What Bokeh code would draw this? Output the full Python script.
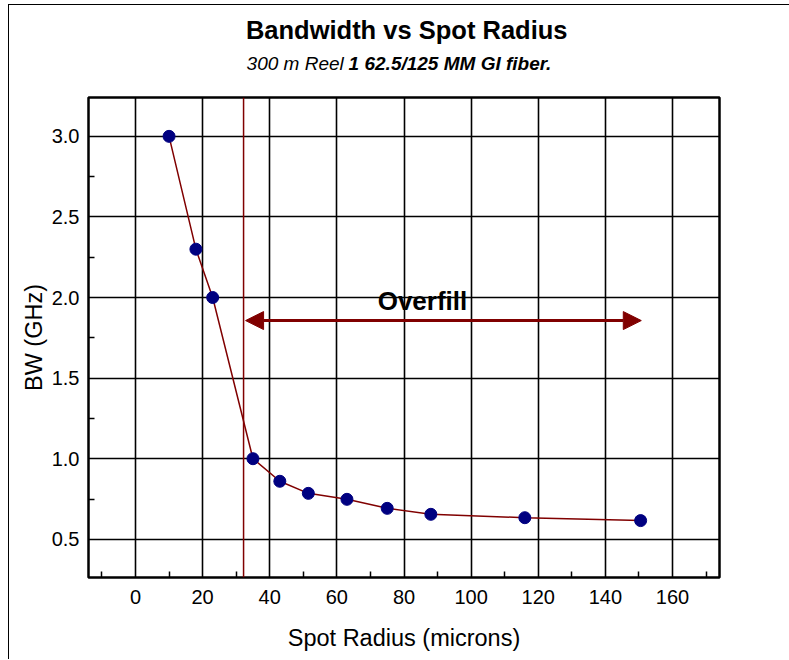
from bokeh.plotting import figure
from bokeh.layouts import column
from bokeh.models import Range1d, FixedTicker, Span, Arrow, NormalHead, Label, NumeralTickFormatter
from bokeh.core.properties import value
from bokeh.embed import file_html
from bokeh.resources import INLINE

# ---- data ----
spot_radius = [10, 18, 23, 35, 43, 51.5, 63, 75, 88, 116, 150.5]
bandwidth = [3.0, 2.3, 2.0, 1.0, 0.86, 0.785, 0.748, 0.692, 0.655, 0.634, 0.616]

x_ticks = [0, 20, 40, 60, 80, 100, 120, 140, 160]
x_minor = [-10, 10, 30, 50, 70, 90, 110, 130, 150, 170]
y_ticks = [0.5, 1.0, 1.5, 2.0, 2.5, 3.0]
y_minor = [0.75, 1.25, 1.75, 2.25, 2.75]

overfill_edge = 32.2          # vertical boundary line (microns)
overfill_end = 150.7          # arrow end (microns)
overfill_level = 1.857        # arrow height (GHz)

title_text = "Bandwidth vs Spot Radius"
subtitle_a = "300 m Reel"
subtitle_b = "1 62.5/125 MM GI fiber."
x_label = "Spot Radius (microns)"
y_label = "BW (GHz)"

FONT = "Liberation Sans"
RED = "#800000"
NAVY = "#000080"

W = 780
HEAD_H = 90
MAIN_H = 564

x_range = Range1d(-14, 174)

# ---- header with title and subtitle (shares the x scale of the plot) ----
head = figure(width=W, height=HEAD_H, output_backend="svg", toolbar_location=None,
              x_range=x_range, y_range=Range1d(0, HEAD_H),
              min_border=0, x_axis_type=None, y_axis_type=None)
head.outline_line_color = None
head.grid.visible = False
head.background_fill_color = "white"
head.border_fill_color = "white"
head.text(x=[80.8], y=[65.5], text=[title_text], text_align="center", text_baseline="alphabetic",
          text_font=value(FONT), text_font_size="25.5px", text_font_style="bold", text_color="black")
head.text(x=[33.1], y=[32], text=[subtitle_a], text_align="left", text_baseline="alphabetic",
          text_font=value(FONT), text_font_size="19px", text_font_style="italic", text_color="black")
head.text(x=[63.5], y=[32], text=[subtitle_b], text_align="left", text_baseline="alphabetic",
          text_font=value(FONT), text_font_size="19px", text_font_style="bold italic", text_color="black")

# ---- main plot ----
p = figure(width=W, height=MAIN_H, output_backend="svg", toolbar_location=None,
           x_range=x_range, y_range=Range1d(0.263, 3.241),
           min_border_left=79, min_border_right=70, min_border_top=2, min_border_bottom=82)
p.background_fill_color = "white"
p.border_fill_color = "white"
p.outline_line_color = "black"
p.outline_line_width = 2.5

p.xaxis.ticker = FixedTicker(ticks=x_ticks, minor_ticks=x_minor)
p.yaxis.ticker = FixedTicker(ticks=y_ticks, minor_ticks=y_minor)
p.yaxis.formatter = NumeralTickFormatter(format="0.0")
for ax in (p.xaxis, p.yaxis):
    ax.axis_line_color = None
    ax.major_tick_in = 0
    ax.major_tick_out = 0
    ax.minor_tick_in = 6
    ax.minor_tick_out = 0
    ax.minor_tick_line_color = "black"
    ax.minor_tick_line_width = 1.5
    ax.major_label_text_font = FONT
    ax.major_label_text_font_size = "20px"
    ax.major_label_text_color = "black"
    ax.axis_label_text_font = FONT
    ax.axis_label_text_font_size = "23.5px"
    ax.axis_label_text_font_style = "normal"
    ax.axis_label_text_color = "black"
p.xaxis.axis_label = x_label
p.yaxis.axis_label = y_label
p.xaxis.major_label_standoff = 12
p.xaxis.axis_label_standoff = 18
p.yaxis.major_label_standoff = 9
p.yaxis.axis_label_standoff = 2

for g in (p.xgrid, p.ygrid):
    g.grid_line_color = "black"
    g.grid_line_width = 1.6
    g.grid_line_alpha = 1.0

p.add_layout(Span(location=overfill_edge, dimension="height", line_color=RED, line_width=1.5))

p.line(spot_radius, bandwidth, line_color=RED, line_width=1.5)
p.scatter(spot_radius, bandwidth, size=12, fill_color=NAVY, line_color=NAVY)

p.add_layout(Arrow(start=NormalHead(size=18, fill_color=RED, line_color=RED),
                   end=NormalHead(size=18, fill_color=RED, line_color=RED),
                   x_start=overfill_edge + 0.6, y_start=overfill_level,
                   x_end=overfill_end, y_end=overfill_level,
                   line_color=RED, line_width=3))
p.add_layout(Label(x=85.5, y=1.98, text="Overfill", text_align="center",
                   text_baseline="alphabetic", text_font=FONT, text_font_size="26px",
                   text_font_style="bold", text_color="black"))

root = column(head, p, spacing=0)
root.styles = {"margin-left": "8px", "margin-top": "4px",
               "border-left": "1px solid black", "border-top": "1px solid black"}

open("out.html", "w").write(file_html(root, INLINE))
